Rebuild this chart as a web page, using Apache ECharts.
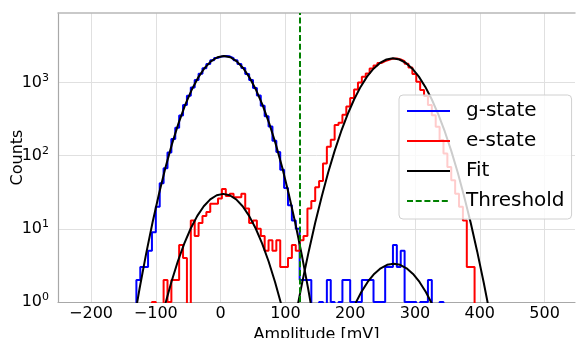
<!DOCTYPE html>
<html>
<head>
<meta charset="utf-8">
<script src="https://cdn.jsdelivr.net/npm/echarts@6/dist/echarts.min.js"></script>
<style>
  html, body { margin: 0; padding: 0; background: #ffffff; }
  #chart { width: 578px; height: 338px; }
</style>
</head>
<body>
<div id="chart"></div>
<script>
// ---------------- data ----------------
// histogram bin edges (mV)
const binEdges = [-142, -136, -130, -124, -118, -112, -106, -100, -94, -88,
  -82, -76, -70, -64, -58, -52, -46, -40, -34, -28,
  -22, -16, -10, -4, 2, 8, 14, 20, 26, 32,
  38, 44, 50, 56, 62, 68, 74, 80, 86, 92,
  98, 104, 110, 116, 122, 128, 134, 140, 146, 152,
  158, 164, 170, 176, 182, 188, 194, 200, 206, 212,
  218, 224, 230, 236, 242, 248, 254, 260, 266, 272,
  278, 284, 290, 296, 302, 308, 314, 320, 326, 332,
  338, 344, 350, 356, 362, 368, 374, 380, 386, 392,
  398, 404];

// counts per bin, g-state preparation
const gCounts = [0, 0, 2, 3, 3, 5, 9, 20, 42, 67,
  110, 168, 240, 352, 490, 655, 850, 1075, 1310, 1560,
  1790, 2000, 2160, 2265, 2300, 2270, 2150, 2010, 1780, 1570,
  1300, 1080, 840, 660, 480, 345, 250, 160, 112, 64,
  36, 21, 13, 10, 2, 2, 2, 0, 0, 1,
  0, 2, 1, 0, 1, 2, 2, 1, 1, 1,
  2, 2, 2, 1, 1, 1, 3, 3, 6, 3,
  5, 1, 1, 1, 0, 1, 1, 2, 0, 0,
  1, 0, 0, 0, 0, 0, 0, 0, 0, 0, 0];

// counts per bin, e-state preparation
const eCounts = [0, 0, 0, 0, 0, 0, 1, 0, 0, 2,
  1, 2, 2, 6, 4, 0, 13, 8, 12, 15,
  17, 22, 22, 26, 35, 28, 30, 27, 27, 30,
  19, 12, 13, 10, 8, 5, 7, 5, 7, 3,
  3, 4, 6, 5, 7, 8, 19, 24, 37, 45,
  78, 132, 165, 262, 280, 360, 470, 610, 800, 1000,
  1190, 1320, 1550, 1700, 1840, 1950, 2040, 2110, 2120, 2060,
  1950, 1800, 1600, 1300, 1020, 785, 650, 490, 357, 247,
  163, 107, 70, 46, 30, 20, 13, 3, 3, 0, 0];

// fit curves
const fitGX = [-135, -125, -115, -105, -95, -85, -75, -65, -55, -45, -35, -25, -15, -5, 5,
  15, 25, 35, 45, 55, 65, 75, 85, 95, 105, 115, 125, 135, 145];
const fitGY = [0.48, 1.54, 4.54, 12.3, 30.4, 69.3, 144.5, 276, 485, 780, 1151, 1558, 1934, 2203, 2300,
  2203, 1934, 1558, 1151, 780, 485, 276, 144.5, 69.3, 30.4, 12.3, 4.54, 1.54, 0.48];

const fitEX = [116, 126, 136, 146, 156, 166, 176, 186, 196, 206, 216, 226, 236, 246, 256, 266,
  276, 286, 296, 306, 316, 326, 336, 346, 356, 366, 376, 386, 396, 406, 416];
const fitEY = [0.66, 1.86, 4.91, 12.06, 27.5, 58.6, 116, 213.7, 366, 584, 867.5, 1199, 1541, 1845, 2055, 2130,
  2055, 1845, 1541, 1199, 867.5, 584, 366, 213.7, 116, 58.6, 27.5, 12.06, 4.91, 1.86, 0.66];

const fitGsmallX = [-96, -86, -76, -66, -56, -46, -36, -26, -16, -6, 4, 14, 24, 34, 44, 54, 64, 74, 84, 94, 104];
const fitGsmallY = [0.40, 0.90, 1.88, 3.6, 6.32, 10.17, 15.0, 20.3, 25.2, 28.7, 30, 28.7, 25.2, 20.3, 15.0, 10.17, 6.32, 3.6, 1.88, 0.90, 0.40];

const fitEsmallX = [197, 207, 217, 227, 237, 247, 257, 267, 277, 287, 297, 307, 317, 327, 337];
const fitEsmallY = [0.574, 0.916, 1.36, 1.88, 2.42, 2.89, 3.22, 3.34, 3.22, 2.89, 2.42, 1.88, 1.36, 0.916, 0.574];

const threshold = 122.5;

const legendNames = ['g-state', 'e-state', 'Fit', 'Threshold'];
const xAxisTitle = 'Amplitude [mV]';
const yAxisTitle = 'Counts';

// ---------------- build ----------------
const FONT = 'DejaVu Sans';
const BELOW = 0.1; // empty bins drop below the log axis floor (clipped)

function histData(edges, counts) {
  const d = counts.map((c, i) => [edges[i], c > 0 ? c : BELOW]);
  d.push([edges[edges.length - 1], BELOW]);
  return d;
}
function pairs(xs, ys) { return xs.map((x, i) => [x, ys[i]]); }

const chart = echarts.init(document.getElementById('chart'), null, { renderer: 'canvas' });

const xMin = -251, xMax = 547;
const yMin = 1, yMax = 8870;

const histStyle = (color) => ({
  type: 'line', step: 'end', symbol: 'none', showSymbol: false,
  lineStyle: { color, width: 2 }, itemStyle: { color }, color,
  clip: true, z: 2, animation: false
});
const fitStyle = {
  type: 'line', name: 'Fit', symbol: 'none', showSymbol: false,
  lineStyle: { color: '#000000', width: 2 }, itemStyle: { color: '#000000' }, color: '#000000',
  clip: true, z: 3, animation: false
};

const option = {
  animation: false,
  backgroundColor: '#ffffff',
  textStyle: { fontFamily: FONT },
  grid: { left: 58, right: 3, top: 13, bottom: 36, containLabel: false, outerBoundsMode: 'none' },
  legend: {
    data: legendNames,
    orient: 'vertical',
    left: 399, top: 95,
    itemWidth: 43, itemHeight: 14, itemGap: 10,
    padding: [6, 7, 8, 7],
    backgroundColor: 'rgba(255,255,255,0.8)',
    borderColor: '#d0d0d0', borderWidth: 1, borderRadius: 4,
    selectedMode: false,
    itemStyle: { opacity: 0 },
    textStyle: { fontFamily: FONT, fontSize: 20, color: '#000000', lineHeight: 20, padding: [0, 0, 0, 11] }
  },
  xAxis: [{
    type: 'value', min: xMin, max: xMax, splitNumber: 8,
    position: 'bottom',
    name: xAxisTitle, nameLocation: 'middle', nameGap: 19,
    nameTextStyle: { fontFamily: FONT, fontSize: 16, color: '#000000' },
    axisLine: { show: true, onZero: false, lineStyle: { color: '#a8a8a8', width: 1.2 } },
    axisTick: { show: false },
    axisLabel: {
      fontFamily: FONT, fontSize: 16, color: '#000000', margin: 4,
      showMinLabel: false, showMaxLabel: false,
      formatter: v => (v % 100 === 0 ? String(v).replace('-', '\u2212') : '')
    },
    splitLine: { show: true, showMinLine: false, showMaxLine: false, lineStyle: { color: '#e0e0e0', width: 1 } }
  }, {
    type: 'value', min: xMin, max: xMax, position: 'top',
    axisLine: { show: true, onZero: false, lineStyle: { color: '#b8b8b8', width: 1.5 } },
    axisTick: { show: false }, axisLabel: { show: false }, splitLine: { show: false }
  }],
  yAxis: {
    type: 'log', logBase: 10, min: yMin, max: yMax,
    name: yAxisTitle, nameLocation: 'middle', nameGap: 32, nameRotate: 90,
    nameMoveOverlap: false,
    nameTextStyle: { fontFamily: FONT, fontSize: 16, color: '#000000' },
    axisLine: { show: true, onZero: false, lineStyle: { color: '#a8a8a8', width: 1.2 } },
    axisTick: { show: false },
    axisLabel: {
      margin: 9, showMaxLabel: false,
      formatter: v => {
        const e = Math.log10(v), r = Math.round(e);
        if (Math.abs(e - r) > 1e-6) return '';
        return '{b|10}{s|' + r + '}';
      },
      rich: {
        b: { fontFamily: FONT, fontSize: 16, color: '#000000' },
        s: { fontFamily: FONT, fontSize: 11, color: '#000000', padding: [0, 0, 9, 0] }
      }
    },
    splitLine: { show: true, showMaxLine: false, lineStyle: { color: '#e0e0e0', width: 1 } }
  },
  series: [
    Object.assign({ name: 'g-state', data: histData(binEdges, gCounts) }, histStyle('#0000ff')),
    Object.assign({ name: 'e-state', data: histData(binEdges, eCounts) }, histStyle('#ff0000')),
    Object.assign({}, fitStyle, { data: pairs(fitGX, fitGY) }),
    Object.assign({}, fitStyle, { data: pairs(fitEX, fitEY) }),
    Object.assign({}, fitStyle, { data: pairs(fitGsmallX, fitGsmallY) }),
    Object.assign({}, fitStyle, { data: pairs(fitEsmallX, fitEsmallY) }),
    {
      name: 'Threshold', type: 'line', data: [], symbol: 'none',
      color: '#008000',
      lineStyle: { color: '#008000', width: 2, type: [6, 2.7] },
      itemStyle: { color: '#008000' },
      z: 4, animation: false,
      markLine: {
        silent: true, symbol: 'none', animation: false,
        label: { show: false },
        lineStyle: { color: '#008000', width: 2, type: [6, 2.7] },
        emphasis: { disabled: true },
        data: [{ xAxis: threshold }]
      }
    }
  ]
};

chart.setOption(option);
</script>
</body>
</html>
